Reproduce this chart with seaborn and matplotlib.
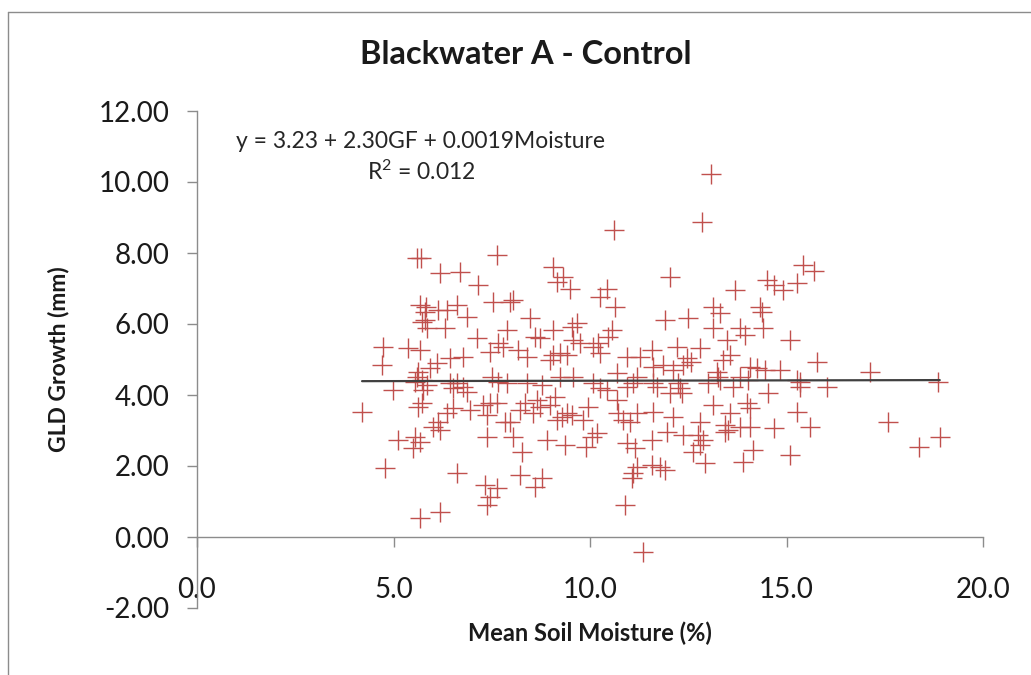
import matplotlib
matplotlib.use("Agg")
import matplotlib.pyplot as plt
import seaborn as sns
import pandas as pd
from matplotlib.lines import Line2D

# ---------------- data ----------------
moisture = [
    5.59, 5.69, 7.63, 6.18, 6.69, 7.16, 7.54, 5.67, 5.83, 5.80, 6.14, 6.35, 6.61, 6.86,
    5.80, 5.72, 5.84, 6.31, 7.12, 7.88, 7.67, 7.46, 7.79, 4.74, 5.38, 5.67, 4.70, 6.44,
    6.78, 6.10, 5.93, 5.63, 5.59, 5.72, 5.55, 5.84, 5.76, 4.99, 6.44, 6.61, 6.78, 6.86,
    6.52, 7.50, 7.67, 7.88, 5.72, 5.63, 4.19, 6.52, 6.35, 6.95, 7.29, 7.46, 7.63, 7.37,
    7.84, 6.14, 6.01, 6.18, 5.12, 5.55, 5.67, 5.50, 7.37, 4.78, 6.61, 7.33, 7.63, 7.46,
    7.37, 5.67, 6.18,
    9.07, 9.32, 9.15, 9.49, 10.25, 10.43, 10.64, 8.05, 7.96, 8.47, 8.18, 8.39, 8.60, 8.73,
    9.07, 9.53, 9.66, 9.58, 9.75, 9.24, 9.07, 8.98, 9.41, 10.08, 10.21, 10.55, 10.47, 10.25,
    10.93, 11.27, 11.57, 11.61, 10.68, 11.19, 9.58, 8.39, 8.77, 9.24, 10.08, 10.25, 10.43,
    10.93, 11.10, 11.61, 8.35, 8.64, 8.73, 8.98, 9.11, 8.56, 8.22, 7.96, 8.05, 8.26, 8.90,
    9.15, 9.28, 9.41, 9.53, 9.36, 9.83, 9.96, 10.04, 9.91, 10.17, 10.68, 10.72, 10.85,
    11.02, 11.19, 10.93, 11.15, 11.57, 11.61, 11.19, 11.10, 11.06, 11.57, 8.22, 8.60, 8.77,
    10.89, 11.34,
    15.43, 15.69, 12.04, 13.69, 14.50, 14.67, 14.92, 15.26, 13.14, 13.31, 14.33, 14.37,
    11.91, 12.50, 13.14, 13.82, 13.94, 13.48, 14.41, 15.09, 12.21, 12.80, 12.46, 12.58,
    12.37, 13.56, 13.39, 11.87, 12.12, 13.22, 13.26, 14.07, 14.24, 14.45, 14.83, 12.25,
    12.29, 12.33, 13.01, 13.31, 13.82, 14.03, 14.54, 13.65, 15.26, 15.34, 11.70, 12.04,
    13.14, 13.56, 13.99, 14.07, 15.26, 12.12, 12.80, 13.43, 13.52, 13.43, 13.82, 14.07,
    14.67, 11.95, 12.37, 12.76, 12.88, 12.80, 12.63, 14.16, 13.90, 12.93, 15.09, 11.78,
    11.91,
    15.77, 17.12, 15.34, 16.02, 18.86, 15.60, 17.59, 18.91, 18.38,
    13.09, 12.84, 10.62,
]
growth = [
    7.85, 7.85, 7.94, 7.43, 7.46, 7.10, 6.63, 6.54, 6.49, 6.35, 6.39, 6.39, 6.54, 6.21,
    6.11, 6.06, 5.88, 5.88, 5.60, 5.83, 5.46, 5.22, 5.36, 5.36, 5.31, 5.27, 4.85, 5.03,
    5.08, 4.89, 4.75, 4.66, 4.52, 4.42, 4.38, 4.28, 4.14, 4.14, 4.33, 4.33, 4.23, 4.09,
    4.19, 4.52, 4.38, 4.33, 3.77, 3.67, 3.53, 3.63, 3.48, 3.58, 3.72, 3.77, 3.77, 3.44,
    3.25, 3.25, 3.11, 3.01, 2.73, 2.83, 2.68, 2.50, 2.83, 1.94, 1.79, 1.46, 1.37, 1.14,
    0.90, 0.53, 0.71,
    7.61, 7.33, 7.19, 7.00, 6.77, 7.00, 6.49, 6.68, 6.63, 6.16, 5.27, 5.08, 5.64, 5.60,
    5.83, 5.92, 6.02, 5.55, 5.46, 5.17, 5.13, 4.99, 5.13, 5.36, 5.46, 5.83, 5.64, 5.17,
    5.08, 5.08, 5.27, 4.80, 4.61, 4.52, 4.52, 4.33, 4.28, 4.52, 4.33, 4.19, 4.14,
    4.23, 4.33, 4.33, 3.77, 3.86, 3.67, 3.72, 3.95, 3.48, 3.58, 3.25, 2.83, 2.40, 2.73,
    3.30, 3.39, 3.48, 3.44, 2.59, 3.30, 3.67, 2.83, 2.54, 2.92, 3.86, 3.48, 3.30,
    3.25, 3.48, 2.64, 2.50, 2.73, 3.53, 1.98, 1.79, 1.65, 2.03, 1.75, 1.42, 1.65,
    0.90, -0.41,
    7.66, 7.49, 7.32, 6.96, 7.24, 7.10, 6.96, 7.15, 6.49, 6.30, 6.49, 6.35,
    6.11, 6.16, 5.88, 5.88, 5.69, 5.55, 5.88, 5.55, 5.36, 5.31, 5.03, 4.94,
    4.85, 5.13, 4.99, 4.85, 4.70, 4.66, 4.52, 4.80, 4.75, 4.70, 4.70, 4.33,
    4.19, 4.05, 4.33, 4.42, 4.52, 4.42, 4.05, 4.23, 4.42, 4.23, 4.23, 4.05,
    3.72, 3.48, 3.77, 3.63, 3.53, 3.39, 3.25, 3.15, 3.01, 2.97, 3.11, 3.11,
    3.06, 2.97, 2.87, 2.87, 2.73, 2.59, 2.40, 2.45, 2.12, 2.08, 2.31, 1.98,
    1.89,
    4.94, 4.66, 4.38, 4.23, 4.38, 3.11, 3.25, 2.83, 2.54,
    10.22, 8.86, 8.64,
]

trend_x = [4.2, 18.9]
trend_y = [4.39, 4.42]

x_ticks = [0, 5, 10, 15, 20]
x_tick_labels = ["0.0", "5.0", "10.0", "15.0", "20.0"]
y_ticks = [-2, 0, 2, 4, 6, 8, 10, 12]
y_tick_labels = ["-2.00", "0.00", "2.00", "4.00", "6.00", "8.00", "10.00", "12.00"]

title = "Blackwater A - Control"
x_label = "Mean Soil Moisture (%)"
y_label = "GLD Growth (mm)"
equation = "y = 3.23 + 2.30GF + 0.0019Moisture"
r2_text = "R$^2$ = 0.012"

# ---------------- plot ----------------
sns.set_style("white")
plt.rcParams["font.family"] = ["Lato", "DejaVu Sans"]
plt.rcParams["mathtext.default"] = "regular"

df = pd.DataFrame({"moisture": moisture, "growth": growth})

fig = plt.figure(figsize=(10.31, 6.75), dpi=100)
ax = fig.add_axes([197 / 1031, 1 - 608 / 675, (983 - 197) / 1031, (608 - 111) / 675])

sns.scatterplot(data=df, x="moisture", y="growth", ax=ax, marker="+",
                color="#C0504D", s=210, linewidth=1.0, legend=False, zorder=3)
sns.lineplot(x=trend_x, y=trend_y, ax=ax, color="#404040", linewidth=1.6,
             legend=False, zorder=4)

ax.set_xlim(0, 20)
ax.set_ylim(-2, 12)
ax.set_xticks(x_ticks)
ax.set_xticklabels(x_tick_labels)
ax.set_yticks(y_ticks)
ax.set_yticklabels(y_tick_labels)

for side in ["top", "right"]:
    ax.spines[side].set_visible(False)
ax.spines["bottom"].set_position(("data", 0))
for side in ["left", "bottom"]:
    ax.spines[side].set_color("#8c8c8c")
    ax.spines[side].set_linewidth(1.0)

ax.tick_params(axis="x", direction="out", length=7, width=1, color="#8c8c8c",
               labelsize=20, pad=22, labelcolor="#1a1a1a", bottom=True)
ax.tick_params(axis="y", direction="out", length=7, width=1, color="#8c8c8c",
               labelsize=20, pad=13, labelcolor="#1a1a1a", left=True)

ax.set_xlabel(x_label, fontsize=17, fontweight="bold", color="#1a1a1a")
ax.xaxis.set_label_coords(0.5, -0.05)
ax.xaxis.label.set_va("center")
ax.set_ylabel(y_label, fontsize=16.5, fontweight="bold", color="#1a1a1a")
ax.yaxis.set_label_coords(-0.176, 0.5)
ax.yaxis.label.set_va("center")

fig.text(526 / 1031, 1 - 54 / 675, title, fontsize=23.5, fontweight="bold",
         ha="center", va="center", color="#1a1a1a")
fig.text(421 / 1031, 1 - 141 / 675, equation, fontsize=16.5, ha="center",
         va="center", color="#262626")
fig.text(421 / 1031, 1 - 172 / 675, r2_text, fontsize=16.5, ha="center",
         va="center", color="#262626")

# outer chart-area frame
fig.add_artist(Line2D([8 / 1031, 8 / 1031], [0, 1 - 12 / 675],
                      transform=fig.transFigure, color="#8c8c8c", lw=1))
fig.add_artist(Line2D([8 / 1031, 1], [1 - 12 / 675, 1 - 12 / 675],
                      transform=fig.transFigure, color="#8c8c8c", lw=1))

fig.savefig("out.png", dpi=100)
